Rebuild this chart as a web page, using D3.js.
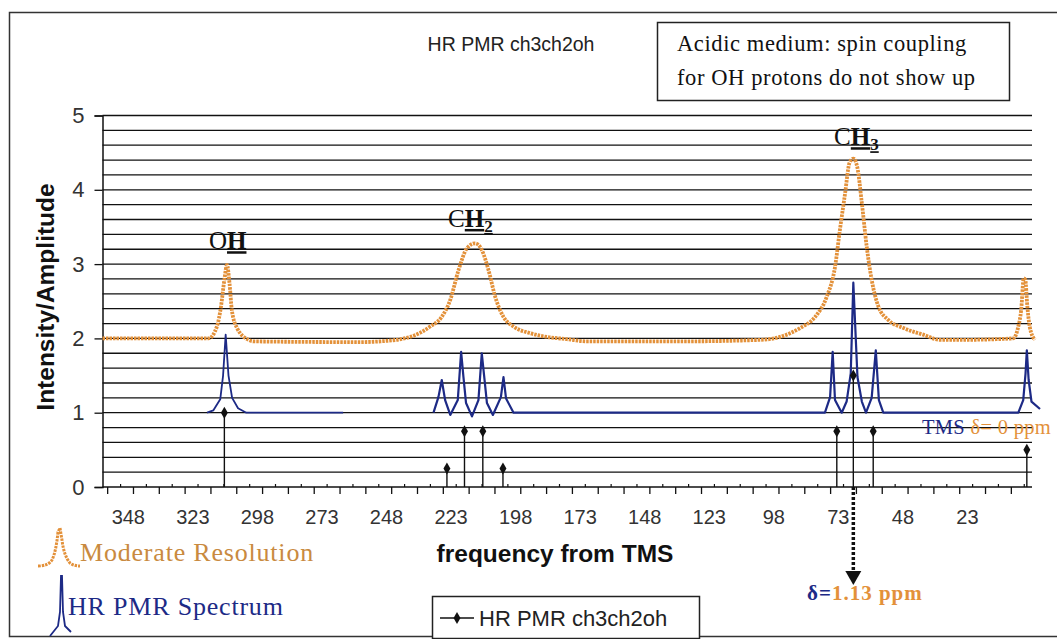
<!DOCTYPE html>
<html>
<head>
<meta charset="utf-8">
<script src="https://cdnjs.cloudflare.com/ajax/libs/d3/7.8.5/d3.min.js"></script>
<style>
  html, body { margin: 0; padding: 0; background: #fff; }
  svg { display: block; }
</style>
</head>
<body>
<svg id="chart" width="1057" height="639"></svg>
<script>
// ---- data: frequency from TMS (Hz) and intensity ----
const xTickLabels = [348, 323, 298, 273, 248, 223, 198, 173, 148, 123, 98, 73, 48, 23];
const yTickLabels = [0, 1, 2, 3, 4, 5];

// moderate-resolution envelope (orange)
const modFreq = [358, 320.1, 316.9, 313.7, 312.1, 310.8, 309.8, 308.8, 307.9, 305.9, 301.4, 299.5,
  258.2, 250.4, 238.8, 231.1, 226.6, 223.3, 220.1, 216.9, 213.7, 211.1, 208.5, 205.9, 202.7, 198.8,
  192.4, 185.9, 178.2, 170.4, 134.3, 103.3, 95.6, 87.8, 82.0, 77.5, 74.3, 72.4, 70.4, 68.7, 67.2,
  65.7, 63.9, 62.0, 60.1, 57.5, 53.7, 47.8, 40.1, 33.6, 25.9, 5.3, 3.3, 2.2, 1.2, 0.6, -0.2, -1.1, -3.1];
const modInt = [2.0, 2.0, 2.0, 2.16, 2.43, 2.79, 2.99, 2.74, 2.38, 2.14, 1.98, 1.96,
  1.95, 1.96, 2.02, 2.16, 2.29, 2.52, 2.92, 3.21, 3.28, 3.19, 2.92, 2.56, 2.29, 2.16,
  2.07, 2.02, 1.99, 1.96, 1.96, 1.98, 2.02, 2.14, 2.29, 2.56, 2.96, 3.46, 3.95, 4.36, 4.42,
  4.31, 3.82, 3.23, 2.79, 2.43, 2.25, 2.14, 2.05, 1.98, 1.98, 2.0, 2.16, 2.38, 2.81, 2.79, 2.43, 2.16, 1.98];

// high-resolution spectrum (blue), two traces
const hrFreqA = [317.5, 315.1, 312.4, 311.3, 310.3, 309.2, 307.8, 305.5, 302.3, 264.8];
const hrIntA  = [1.0, 1.03, 1.18, 1.5, 2.05, 1.5, 1.2, 1.06, 1.0, 1.0];
const hrFreqB = [229.8, 227.9, 226.6, 225.3, 223.3, 220.4, 219.1, 218.2, 217.2, 214.9, 212.4, 211.1,
  210.2, 209.1, 206.8, 203.7, 202.7, 201.7, 198.8,
  78.2, 76.2, 75.2, 74.3, 71.7, 69.8, 68.2, 67.2, 65.6, 63.9, 62.3, 60.1, 58.5, 57.3, 55.6,
  3.3, 1.4, 0.5, 0.0, -0.7, -1.8, -5.1];
const hrIntB  = [1.0, 1.21, 1.44, 1.17, 0.97, 1.17, 1.82, 1.48, 1.13, 0.95, 1.17, 1.80,
  1.5, 1.13, 0.97, 1.21, 1.48, 1.19, 1.0,
  1.0, 1.21, 1.82, 1.17, 1.0, 1.15, 1.53, 2.75, 1.48, 1.15, 1.0, 1.2, 1.84, 1.17, 1.0,
  1.0, 1.17, 1.53, 1.84, 1.44, 1.15, 1.05];

// stick spectrum "HR PMR ch3ch2oh" (line positions and relative intensities)
const stickFreq = [310.8, 224.6, 217.8, 210.7, 202.9, 73.6, 67.2, 59.5, 0];
const stickInt  = [1.0, 0.25, 0.75, 0.75, 0.25, 0.75, 1.5, 0.75, 0.5];

// peak assignment labels
const peakLabels = [
  { base: "O", bold: "H", sub: "", freq: 309.5, at: 3.2 },
  { base: "C", bold: "H", sub: "2", freq: 215.5, at: 3.5 },
  { base: "C", bold: "H", sub: "3", freq: 66, at: 4.6 }
];
const ch3Shift = 1.13;

// ---- layout ----
const svg = d3.select("#chart");
const plot = { left: 102.5, right: 1032, top: 115.5, bottom: 487 };
const x = d3.scaleLinear().domain([358, -2]).range([plot.left, plot.right]);
const y = d3.scaleLinear().domain([0, 5]).range([plot.bottom, plot.top]);

const ORANGE = "#e3913a";
const NAVY = "#1d2a86";
const sans = "'Liberation Sans', Arial, sans-serif";
const serif = "'Liberation Serif', 'Times New Roman', serif";

// outer chart frame
svg.append("rect").attr("x", 9.5).attr("y", 12.5).attr("width", 1060).attr("height", 624)
  .attr("fill", "#fff").attr("stroke", "#333").attr("stroke-width", 1.5);

// horizontal gridlines every 0.2
const gridVals = d3.range(1, 26).map(i => i * 0.2);
svg.append("g").selectAll("line").data(gridVals).join("line")
  .attr("x1", plot.left).attr("x2", plot.right)
  .attr("y1", d => y(d)).attr("y2", d => y(d))
  .attr("stroke", "#111").attr("stroke-width", 1.3);

// y axis
const yAxis = d3.axisLeft(y).tickValues(yTickLabels).tickFormat(d3.format("d")).tickSize(8).tickPadding(10);
const gy = svg.append("g").attr("transform", `translate(${plot.left},0)`).call(yAxis);
gy.select(".domain").attr("stroke", "#111").attr("stroke-width", 1.5);
gy.selectAll(".tick line").attr("stroke", "#111").attr("stroke-width", 1.3);
gy.selectAll(".tick text").attr("font-family", sans).attr("font-size", 22).attr("fill", "#333");

// x axis: major ticks below, minor ticks above, labels every 25 Hz
const gx = svg.append("g").attr("transform", `translate(0,${plot.bottom})`);
gx.append("line").attr("x1", plot.left).attr("x2", plot.right).attr("stroke", "#111").attr("stroke-width", 1.5);
const majorTicks = d3.range(356, -2, -10);
const minorTicks = d3.range(351, -2, -10);
gx.selectAll("line.maj").data(majorTicks).join("line").attr("class", "maj")
  .attr("x1", d => x(d)).attr("x2", d => x(d)).attr("y1", 0).attr("y2", 7)
  .attr("stroke", "#111").attr("stroke-width", 1.3);
gx.selectAll("line.min").data(minorTicks).join("line").attr("class", "min")
  .attr("x1", d => x(d)).attr("x2", d => x(d)).attr("y1", -3).attr("y2", 0)
  .attr("stroke", "#111").attr("stroke-width", 1.2);
gx.selectAll("text").data(xTickLabels).join("text")
  .attr("x", d => x(d)).attr("y", 37).attr("text-anchor", "middle")
  .attr("font-family", sans).attr("font-size", 20).attr("fill", "#333").text(d => d);

// moderate-resolution envelope
const modData = modFreq.map((f, i) => [f, modInt[i]]);
svg.append("path").datum(modData)
  .attr("d", d3.line().x(d => x(d[0])).y(d => y(d[1])).curve(d3.curveMonotoneX))
  .attr("fill", "none").attr("stroke", ORANGE).attr("stroke-width", 3.8)
  .attr("stroke-dasharray", "2.5 1").attr("stroke-linejoin", "round");

// high-resolution spectrum
const hrLine = d3.line().x(d => x(d[0])).y(d => y(d[1]));
[[hrFreqA, hrIntA, 1.8], [hrFreqB, hrIntB, 2.2]].forEach(([fs, is, w]) => {
  svg.append("path").datum(fs.map((f, i) => [f, is[i]]))
    .attr("d", hrLine).attr("fill", "none").attr("stroke", NAVY)
    .attr("stroke-width", w).attr("stroke-linejoin", "round");
});

// stick spectrum with diamond markers
const sticks = stickFreq.map((f, i) => ({ f, v: stickInt[i] }));
svg.append("g").selectAll("line").data(sticks).join("line")
  .attr("x1", d => x(d.f)).attr("x2", d => x(d.f))
  .attr("y1", y(0)).attr("y2", d => y(d.v))
  .attr("stroke", "#111").attr("stroke-width", 1.4);
const diamond = d3.symbol().type(d3.symbolDiamond).size(42);
svg.append("g").selectAll("path").data(sticks).join("path")
  .attr("transform", d => `translate(${x(d.f)},${y(d.v)})`)
  .attr("d", diamond).attr("fill", "#111");

// peak labels: O/C normal, proton H bold and underlined
peakLabels.forEach(p => {
  const t = svg.append("text").attr("x", x(p.freq)).attr("y", y(p.at))
    .attr("text-anchor", "middle").attr("font-family", serif).attr("font-size", 25).attr("fill", "#111");
  t.append("tspan").text(p.base);
  t.append("tspan").attr("font-weight", "bold").attr("text-decoration", "underline").text(p.bold);
  if (p.sub) t.append("tspan").attr("font-weight", "bold").attr("font-size", 17).attr("dy", 5)
    .attr("text-decoration", "underline").text(p.sub);
});

// TMS reference label
const tms = svg.append("text").attr("x", 922).attr("y", 434)
  .attr("font-family", serif).attr("font-size", 20.5).attr("letter-spacing", 0.3);
tms.append("tspan").attr("fill", NAVY).text("TMS ");
tms.append("tspan").attr("fill", ORANGE).text("δ= 0 ppm");

// chemical-shift arrow for CH3
const xc = x(stickFreq[6]);
svg.append("line").attr("x1", xc).attr("x2", xc).attr("y1", y(0)).attr("y2", 572)
  .attr("stroke", "#111").attr("stroke-width", 3.5).attr("stroke-dasharray", "3 2");
svg.append("path").attr("d", `M${xc - 8},571 L${xc + 8},571 L${xc},585 Z`).attr("fill", "#111");
const dl = svg.append("text").attr("x", 807).attr("y", 600)
  .attr("font-family", serif).attr("font-size", 21).attr("font-weight", "bold").attr("letter-spacing", 1);
dl.append("tspan").attr("fill", NAVY).text("δ=");
dl.append("tspan").attr("fill", ORANGE).text(`${ch3Shift} ppm`);

// titles
svg.append("text").attr("x", 511).attr("y", 51).attr("text-anchor", "middle")
  .attr("font-family", sans).attr("font-size", 19.5).attr("fill", "#222").text("HR PMR ch3ch2oh");
svg.append("text").attr("x", 555).attr("y", 562).attr("text-anchor", "middle")
  .attr("font-family", sans).attr("font-size", 24.5).attr("font-weight", "bold").attr("fill", "#111")
  .text("frequency from TMS");
svg.append("text").attr("transform", "translate(54,297) rotate(-90)").attr("text-anchor", "middle")
  .attr("font-family", sans).attr("font-size", 24.5).attr("font-weight", "bold").attr("fill", "#111")
  .text("Intensity/Amplitude");

// note box
svg.append("rect").attr("x", 657.5).attr("y", 22.5).attr("width", 352).attr("height", 78)
  .attr("fill", "#fff").attr("stroke", "#222").attr("stroke-width", 1.5);
const note = svg.append("text").attr("font-family", serif).attr("font-size", 22.5)
  .attr("letter-spacing", 0.6).attr("fill", "#111");
note.append("tspan").attr("x", 677).attr("y", 51).text("Acidic medium: spin coupling");
note.append("tspan").attr("x", 677).attr("y", 85).text("for OH protons do not show up");

// series legend box
svg.append("rect").attr("x", 432.5).attr("y", 596.5).attr("width", 267).attr("height", 42)
  .attr("fill", "#fff").attr("stroke", "#222").attr("stroke-width", 1.5);
svg.append("line").attr("x1", 440).attr("x2", 474).attr("y1", 618).attr("y2", 618)
  .attr("stroke", "#111").attr("stroke-width", 1.5);
svg.append("path").attr("transform", "translate(457,618)").attr("d", diamond).attr("fill", "#111");
svg.append("text").attr("x", 479).attr("y", 626).attr("font-family", sans).attr("font-size", 22)
  .attr("fill", "#222").text("HR PMR ch3ch2oh");

// spectrum-type keys: small peak glyphs with captions
svg.append("path").attr("d", "M38,566 Q48,566 52,560 Q56,552 58,532 L60,528 L62,540 Q64,556 70,563 Q74,566 80,566")
  .attr("fill", "none").attr("stroke", ORANGE).attr("stroke-width", 3).attr("stroke-dasharray", "2.5 1");
svg.append("text").attr("x", 80).attr("y", 561).attr("font-family", serif).attr("font-size", 26)
  .attr("letter-spacing", 0.8).attr("fill", "#c98a40").text("Moderate Resolution");
svg.append("path").attr("d", "M50,636 L58,626 L60,612 L61,576 L62,576 L63,612 L65,626 L71,632")
  .attr("fill", "none").attr("stroke", NAVY).attr("stroke-width", 1.8);
svg.append("text").attr("x", 68).attr("y", 615).attr("font-family", serif).attr("font-size", 26)
  .attr("letter-spacing", 0.8).attr("fill", NAVY).text("HR PMR Spectrum");
</script>
</body>
</html>
